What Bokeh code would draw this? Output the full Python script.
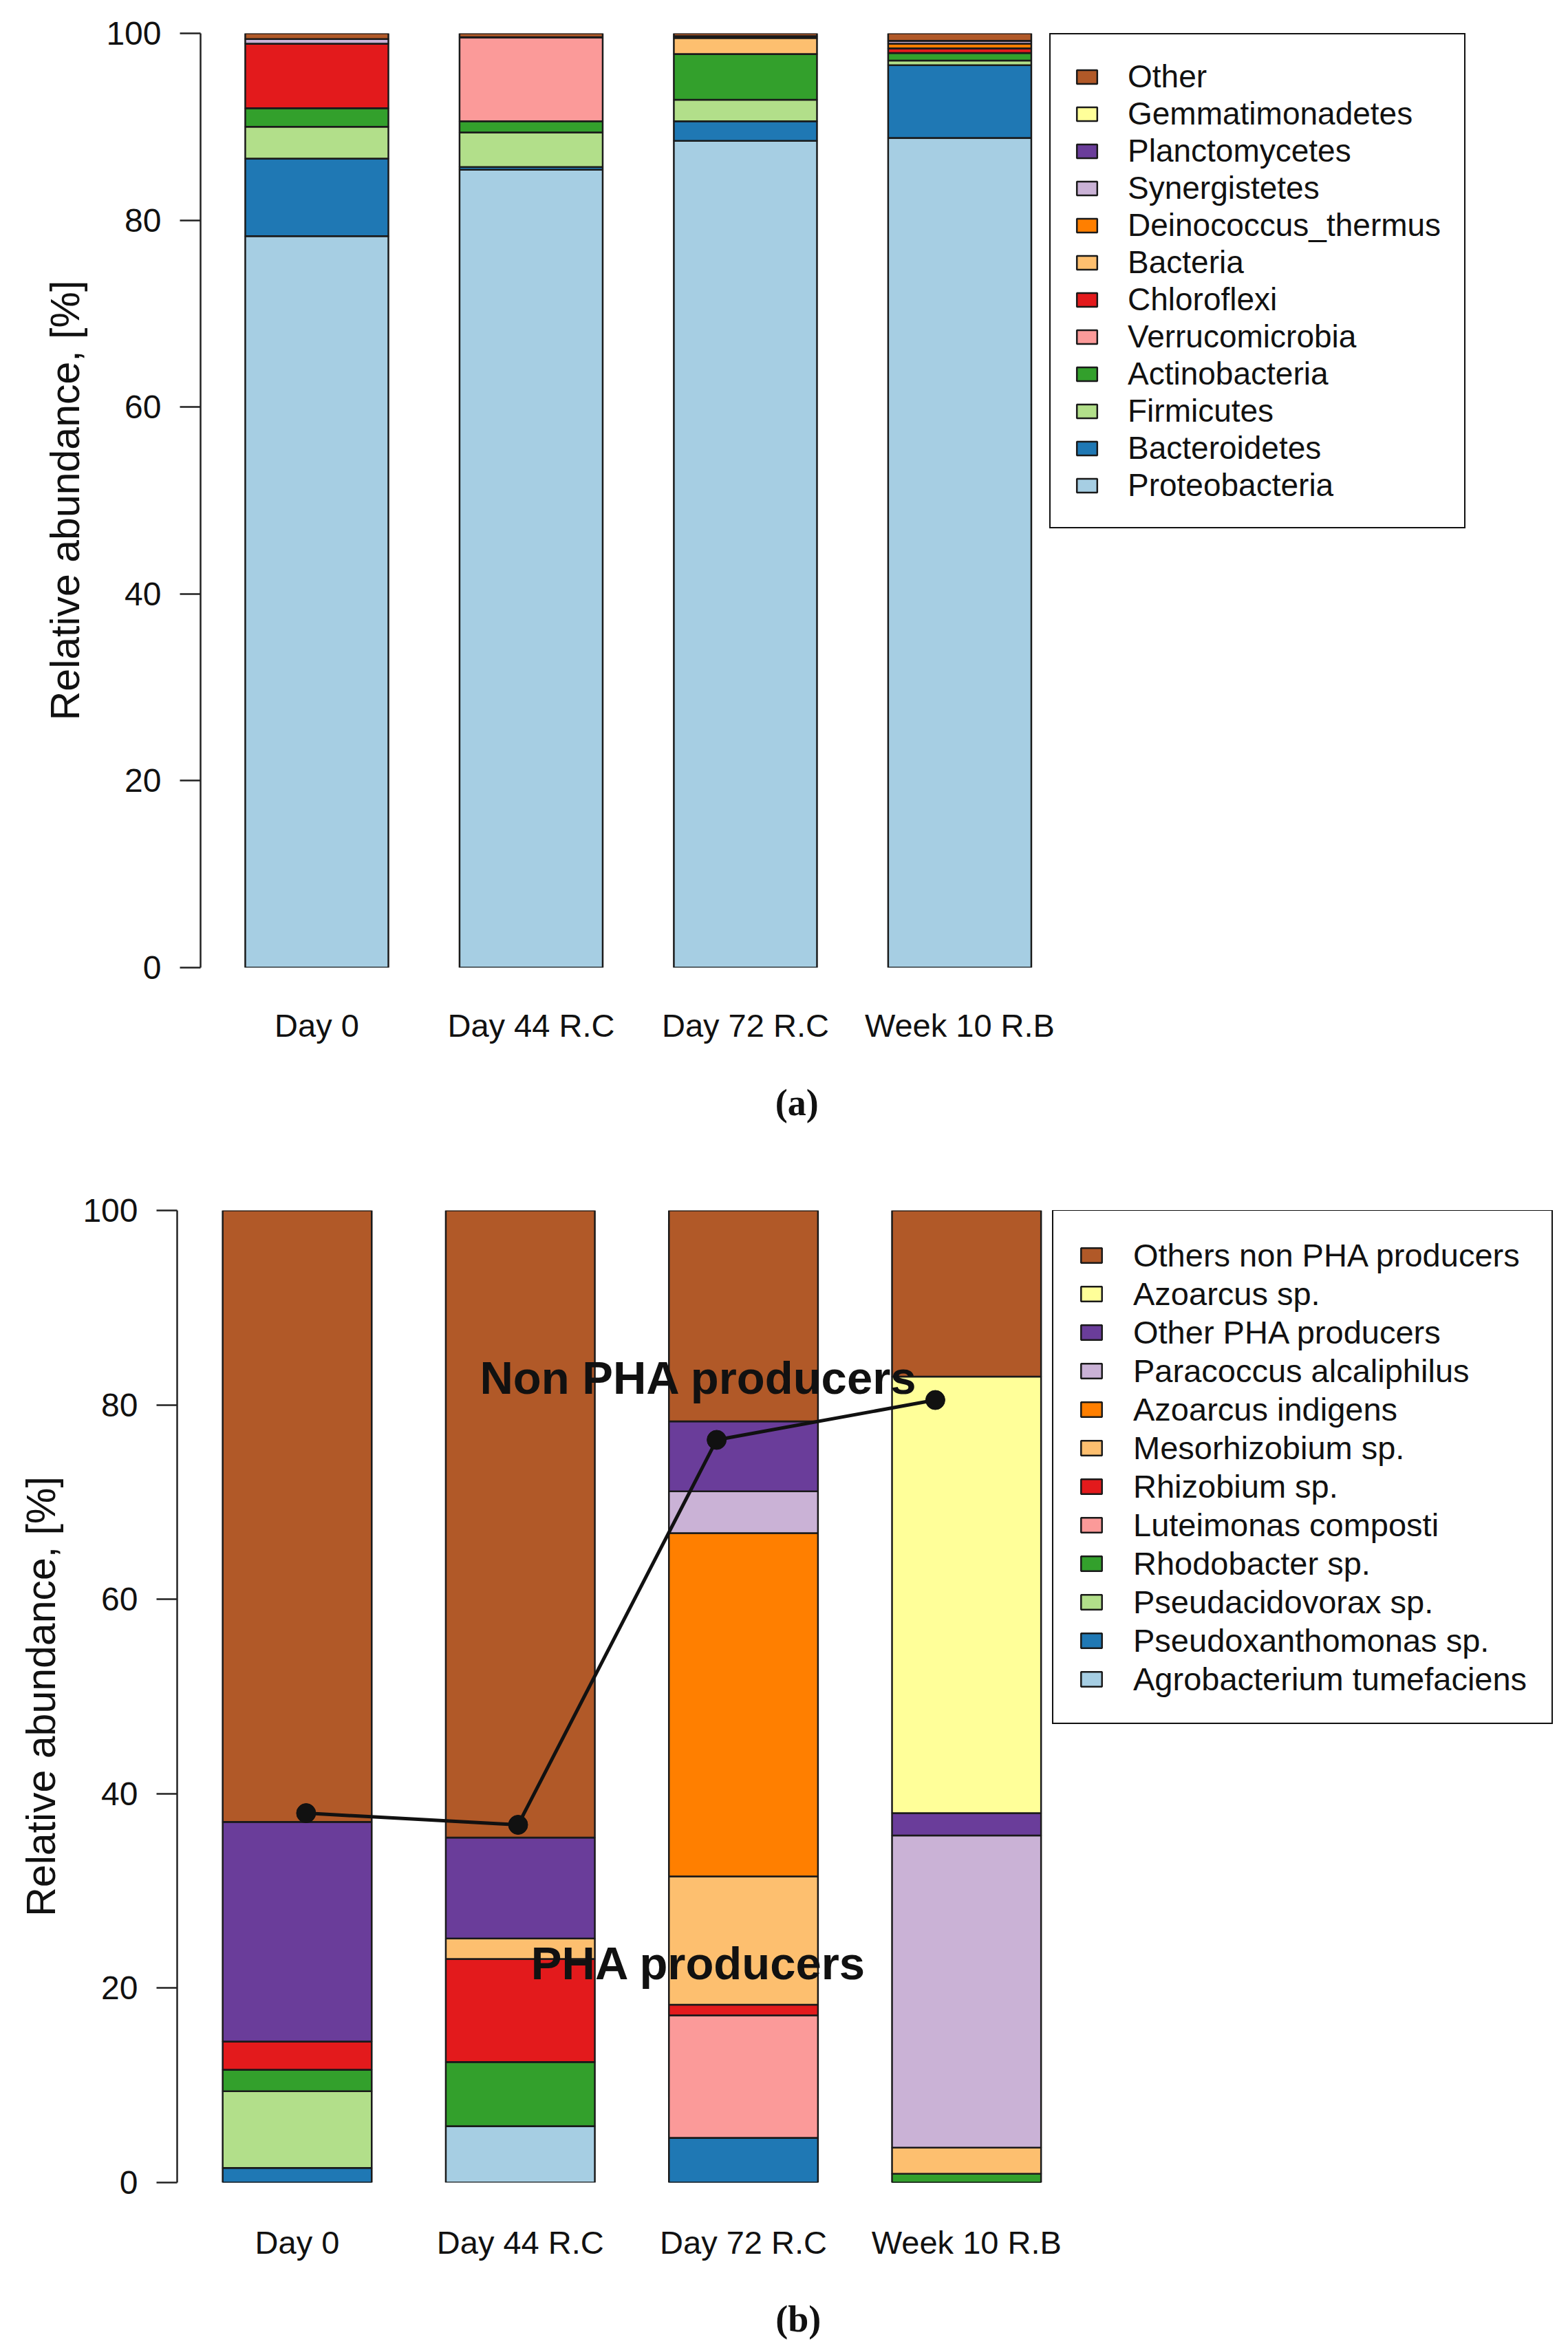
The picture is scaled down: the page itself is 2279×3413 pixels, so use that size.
import numpy as np
from bokeh.plotting import figure
from bokeh.models import (ColumnDataSource, Range1d, FixedTicker, Legend, LegendItem,
                          Label, LinearAxis, Spacer)
from bokeh.layouts import column, row
from bokeh.embed import file_html
from bokeh.resources import INLINE

# ---------------- data ----------------
samples = ["Day 0", "Day 44 R.C", "Day 72 R.C", "Week 10 R.B"]
paired = ["#A6CEE3", "#1F78B4", "#B2DF8A", "#33A02C", "#FB9A99", "#E31A1C",
          "#FDBF6F", "#FF7F00", "#CAB2D6", "#6A3D9A", "#FFFF99", "#B15928"]

# (a) phyla, stacked bottom -> top
phyla = ["Proteobacteria", "Bacteroidetes", "Firmicutes", "Actinobacteria",
         "Verrucomicrobia", "Chloroflexi", "Bacteria", "Deinococcus_thermus",
         "Synergistetes", "Planctomycetes", "Gemmatimonadetes", "Other"]
Proteobacteria = [78.3, 85.4, 88.5, 88.8]
Bacteroidetes = [8.3, 0.3, 2.1, 7.8]
Firmicutes = [3.4, 3.7, 2.3, 0.5]
Actinobacteria = [2.0, 1.2, 4.9, 0.8]
Verrucomicrobia = [0.0, 9.0, 0.0, 0.0]
Chloroflexi = [6.9, 0.0, 0.0, 0.5]
Bacteria = [0.0, 0.0, 1.7, 0.0]
Deinococcus_thermus = [0.0, 0.0, 0.2, 0.5]
Synergistetes = [0.5, 0.0, 0.0, 0.3]
Planctomycetes = [0.0, 0.0, 0.0, 0.0]
Gemmatimonadetes = [0.0, 0.0, 0.0, 0.0]
Other = [0.6, 0.4, 0.3, 0.8]

# (b) species, stacked bottom -> top
species = ["Agrobacterium tumefaciens", "Pseudoxanthomonas sp.", "Pseudacidovorax sp.",
           "Rhodobacter sp.", "Luteimonas composti", "Rhizobium sp.", "Mesorhizobium sp.",
           "Azoarcus indigens", "Paracoccus alcaliphilus", "Other PHA producers",
           "Azoarcus sp.", "Others non PHA producers"]
Agrobacterium = [0.0, 5.8, 0.0, 0.0]
Pseudoxanthomonas = [1.5, 0.0, 4.6, 0.0]
Pseudacidovorax = [7.9, 0.0, 0.0, 0.0]
Rhodobacter = [2.2, 6.6, 0.0, 0.9]
Luteimonas = [0.0, 0.0, 12.6, 0.0]
Rhizobium = [2.9, 10.6, 1.1, 0.0]
Mesorhizobium = [0.0, 2.1, 13.2, 2.7]
Azoarcus_indigens = [0.0, 0.0, 35.3, 0.0]
Paracoccus = [0.0, 0.0, 4.3, 32.1]
Other_PHA = [22.6, 10.4, 7.2, 2.3]
Azoarcus_sp = [0.0, 0.0, 0.0, 44.9]
Others_non_PHA = [62.9, 64.5, 21.7, 17.1]

# PHA-producer trend points
pha_points = [38.0, 36.8, 76.4, 80.5]
pha_point_shift = [0.04, -0.01, -0.12, -0.14]

yticks = [0, 20, 40, 60, 80, 100]

FONT = "Liberation Sans"


def style(p, ylabel, xlab_standoff, ylab_standoff):
    p.outline_line_color = None
    p.xgrid.visible = False
    p.ygrid.visible = False
    p.background_fill_color = "white"
    p.border_fill_color = "white"
    ya = p.yaxis[0]
    ya.ticker = FixedTicker(ticks=yticks)
    ya.axis_label = ylabel
    ya.axis_label_text_font = FONT
    ya.axis_label_text_font_size = "59px"
    ya.axis_label_text_font_style = "normal"
    ya.axis_label_text_color = "#111111"
    ya.axis_label_standoff = ylab_standoff
    ya.major_label_text_font = FONT
    ya.major_label_text_font_size = "48px"
    ya.major_label_text_color = "#111111"
    ya.major_label_standoff = 27
    ya.major_tick_out = 30
    ya.major_tick_in = 0
    ya.minor_tick_line_color = None
    ya.axis_line_width = 2.5
    ya.major_tick_line_width = 2.5
    ya.axis_line_color = "#222222"
    ya.major_tick_line_color = "#222222"
    xa = p.xaxis[0]
    xa.ticker = FixedTicker(ticks=list(range(1, len(samples) + 1)))
    xa.major_label_overrides = {i + 1: s for i, s in enumerate(samples)}
    xa.major_label_text_font = FONT
    xa.major_label_text_font_size = "47px"
    xa.major_label_text_color = "#111111"
    xa.major_label_standoff = xlab_standoff
    xa.axis_line_color = None
    xa.major_tick_line_color = None
    xa.minor_tick_line_color = None


def stacked(p, names, cols, colors, legend_loc, font_size, pad, item_h, gw, gh, standoff):
    x = np.arange(1, len(samples) + 1)
    data = {"x": x}
    keys = []
    for i, c in enumerate(cols):
        k = "s%d" % i
        data[k] = c
        keys.append(k)
    src = ColumnDataSource(data)
    rs = p.vbar_stack(keys, x="x", width=0.668, color=colors, source=src,
                      line_color="#1a1a1a", line_width=2.5)
    items = [LegendItem(label=names[i], renderers=[rs[i]]) for i in range(len(names))][::-1]
    leg = Legend(items=items, location=legend_loc, margin=0, padding=pad, spacing=0,
                 label_height=item_h, glyph_width=gw, glyph_height=gh,
                 label_standoff=standoff, label_text_font=FONT,
                 label_text_font_size=font_size, label_text_color="#111111",
                 border_line_color="#111111", border_line_width=2, border_line_alpha=1.0,
                 background_fill_color="white", background_fill_alpha=1.0)
    p.add_layout(leg)
    return x


def caption(p, text, xpos, standoff):
    ax = LinearAxis(ticker=FixedTicker(ticks=[xpos]), major_label_overrides={xpos: text},
                    major_label_standoff=standoff, major_label_text_font="Liberation Serif",
                    major_label_text_font_style="bold", major_label_text_font_size="54px",
                    major_label_text_color="#111111", axis_line_color=None,
                    major_tick_line_color=None, minor_tick_line_color=None)
    p.add_layout(ax, "below")


# ---------------- figure (a) ----------------
pa = figure(width=2237, height=1700, output_backend="svg", toolbar_location=None,
            x_range=Range1d(0.4575, 6.795), y_range=Range1d(0, 100),
            min_border_left=257, min_border_right=6, min_border_top=48, min_border_bottom=294)
style(pa, "Relative abundance, [%]", 51, 23)
cols_a = [Proteobacteria, Bacteroidetes, Firmicutes, Actinobacteria, Verrucomicrobia,
          Chloroflexi, Bacteria, Deinococcus_thermus, Synergistetes, Planctomycetes,
          Gemmatimonadetes, Other]
stacked(pa, phyla, cols_a, paired, (1234, 638), "46px", 34, 54, 37, 25, 41)
caption(pa, "(a)", 3.24, 47)

# ---------------- figure (b) ----------------
pb = figure(width=2271, height=1713, output_backend="svg", toolbar_location=None,
            x_range=Range1d(0.462, 6.654), y_range=Range1d(0, 100),
            min_border_left=257, min_border_right=6, min_border_top=59, min_border_bottom=241)
style(pb, "Relative abundance, [%]", 54, 24)
cols_b = [Agrobacterium, Pseudoxanthomonas, Pseudacidovorax, Rhodobacter, Luteimonas,
          Rhizobium, Mesorhizobium, Azoarcus_indigens, Paracoccus, Other_PHA,
          Azoarcus_sp, Others_non_PHA]
xb = stacked(pb, species, cols_b, paired, (1272, 666), "47px", 36, 56, 38, 27, 42)
px = xb + np.array(pha_point_shift)
pb.line(px, pha_points, line_width=5, line_color="#111111")
pb.scatter(px, pha_points, size=28, color="#111111")
pb.add_layout(Label(x=2.8, y=82.8, text="Non PHA producers", text_font=FONT,
                    text_font_style="bold", text_font_size="67px", text_align="center",
                    text_baseline="alphabetic", text_color="#111111"))
pb.add_layout(Label(x=2.8, y=22.6, text="PHA producers", text_font=FONT,
                    text_font_style="bold", text_font_size="67px", text_align="center",
                    text_baseline="alphabetic", text_color="#111111"))
caption(pb, "(b)", 3.246, 46)

page = column(row(Spacer(width=34, height=1700), pa), pb)
open("out.html", "w").write(file_html(page, INLINE))
